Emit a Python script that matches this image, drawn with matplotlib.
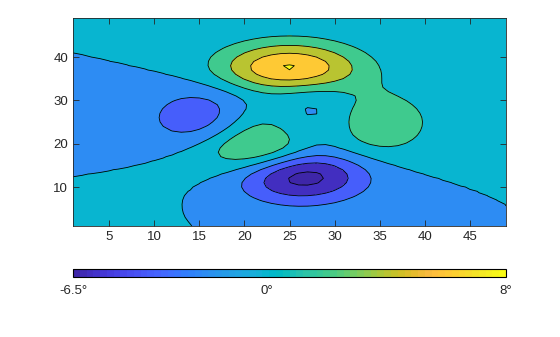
import numpy as np
import matplotlib
matplotlib.use("Agg")
from matplotlib import pyplot as plt
from matplotlib.colors import ListedColormap, Normalize

plt.rcParams['font.family'] = ['Liberation Sans', 'DejaVu Sans']

# dane: klasyczna powierzchnia "peaks" na siatce 49x49
n = 49
levels = [-6, -4, -2, 0, 2, 4, 6, 8]
clim = [-6.5, 8]
cbar_ticks = [-6.5, 0, 8]
cbar_labels = ['-6.5°', '0°', '8°']
xticks = [5, 10, 15, 20, 25, 30, 35, 40, 45]
yticks = [10, 20, 30, 40]

parula_data = [
    [0.2422, 0.1504, 0.6603], [0.2504, 0.1650, 0.7076], [0.2578, 0.1818, 0.7511], [0.2647, 0.1978, 0.7952],
    [0.2706, 0.2147, 0.8364], [0.2751, 0.2342, 0.8710], [0.2783, 0.2559, 0.8991], [0.2803, 0.2782, 0.9221],
    [0.2813, 0.3006, 0.9414], [0.2810, 0.3228, 0.9579], [0.2795, 0.3447, 0.9717], [0.2760, 0.3667, 0.9829],
    [0.2699, 0.3892, 0.9906], [0.2602, 0.4123, 0.9952], [0.2440, 0.4358, 0.9988], [0.2206, 0.4603, 0.9973],
    [0.1963, 0.4847, 0.9892], [0.1834, 0.5074, 0.9798], [0.1786, 0.5289, 0.9682], [0.1764, 0.5499, 0.9520],
    [0.1687, 0.5703, 0.9359], [0.1540, 0.5902, 0.9218], [0.1460, 0.6091, 0.9079], [0.1380, 0.6276, 0.8973],
    [0.1248, 0.6459, 0.8883], [0.1113, 0.6635, 0.8763], [0.0952, 0.6798, 0.8598], [0.0689, 0.6948, 0.8394],
    [0.0297, 0.7082, 0.8163], [0.0036, 0.7203, 0.7917], [0.0067, 0.7312, 0.7660], [0.0433, 0.7411, 0.7394],
    [0.0964, 0.7500, 0.7120], [0.1408, 0.7584, 0.6842], [0.1717, 0.7670, 0.6554], [0.1938, 0.7758, 0.6251],
    [0.2161, 0.7843, 0.5923], [0.2470, 0.7918, 0.5567], [0.2906, 0.7973, 0.5188], [0.3406, 0.8008, 0.4789],
    [0.3909, 0.8029, 0.4354], [0.4456, 0.8024, 0.3909], [0.5044, 0.7993, 0.3480], [0.5616, 0.7942, 0.3045],
    [0.6174, 0.7876, 0.2612], [0.6720, 0.7793, 0.2227], [0.7242, 0.7698, 0.1910], [0.7738, 0.7598, 0.1646],
    [0.8203, 0.7498, 0.1535], [0.8634, 0.7406, 0.1596], [0.9035, 0.7330, 0.1774], [0.9393, 0.7288, 0.2100],
    [0.9728, 0.7298, 0.2394], [0.9956, 0.7434, 0.2371], [0.9970, 0.7659, 0.2199], [0.9952, 0.7893, 0.2028],
    [0.9892, 0.8136, 0.1885], [0.9786, 0.8386, 0.1766], [0.9676, 0.8639, 0.1643], [0.9610, 0.8890, 0.1537],
    [0.9597, 0.9135, 0.1423], [0.9628, 0.9373, 0.1265], [0.9691, 0.9606, 0.1064], [0.9769, 0.9839, 0.0805]]
parula = ListedColormap(parula_data, name='parula')

u = np.linspace(-3, 3, n)
x, y = np.meshgrid(u, u)
Z = (3 * (1 - x)**2 * np.exp(-x**2 - (y + 1)**2)
     - 10 * (x / 5 - x**3 - y**5) * np.exp(-x**2 - y**2)
     - 1 / 3 * np.exp(-(x + 1)**2 - y**2))
X, Y = np.meshgrid(np.arange(1, n + 1), np.arange(1, n + 1))

# jak w matlabie: obszar dostaje kolor dolnego poziomu
norm = Normalize(clim[0], clim[1])
fill_levels = [Z.min() - 1e-9] + levels + [Z.max() + 1e-9]
fill_colors = [parula(norm(v)) for v in [Z.min()] + levels]

fig = plt.figure(figsize=(5.6, 3.37), dpi=100)
ax = fig.add_axes([73 / 560, 1 - 226 / 337, 433 / 560, 208 / 337])
ax.contourf(X, Y, Z, levels=fill_levels, colors=fill_colors)
ax.contour(X, Y, Z, levels=levels, colors='k', linewidths=0.6, linestyles='solid')
ax.set_xlim(1, n)
ax.set_ylim(1, n)
ax.set_xticks(xticks)
ax.set_yticks(yticks)
ax.tick_params(direction='in', top=True, right=True, length=4, width=0.6,
               labelsize=9.5, colors='#262626')
for s in ax.spines.values():
    s.set_linewidth(0.6)
    s.set_color('#262626')

cax = fig.add_axes([73 / 560, 1 - 277 / 337, 433 / 560, 8 / 337])
sm = plt.cm.ScalarMappable(norm=norm, cmap=parula)
cb = fig.colorbar(sm, cax=cax, orientation='horizontal')
cb.set_ticks(cbar_ticks)
cb.set_ticklabels(cbar_labels)
cb.ax.tick_params(length=0, pad=6, labelsize=9.5, colors='#262626')
cb.outline.set_linewidth(0.8)

fig.savefig('out.png', dpi=100)
